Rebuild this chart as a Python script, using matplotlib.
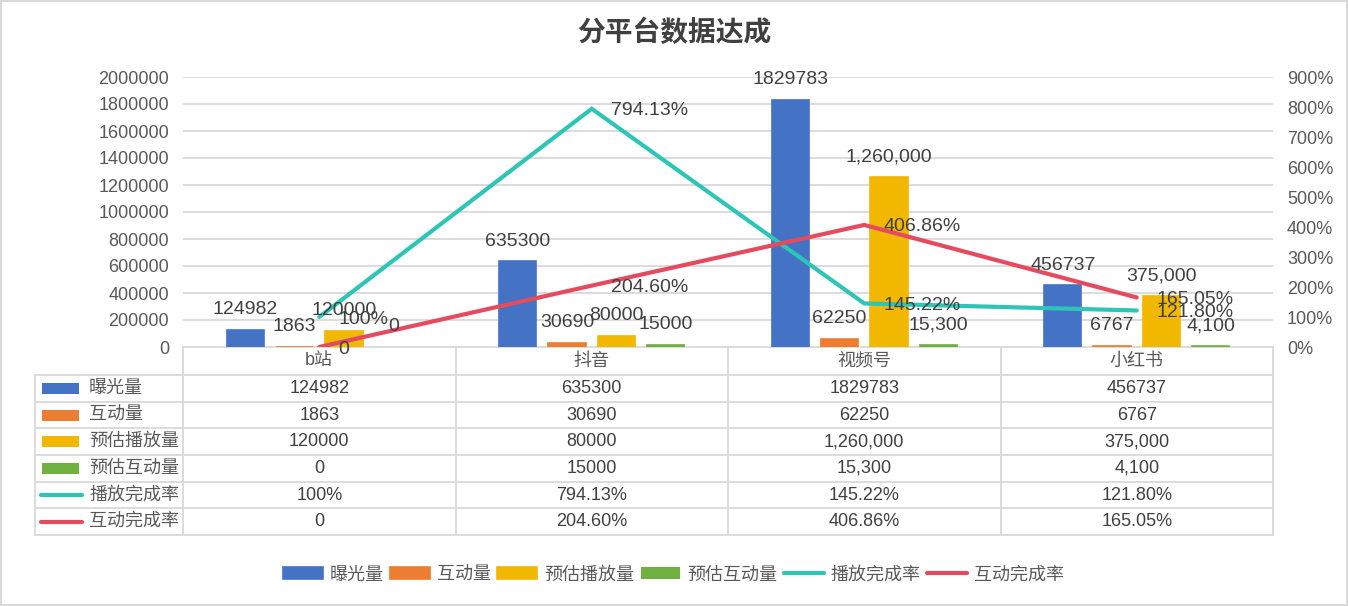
import matplotlib
matplotlib.use("Agg")
import matplotlib.pyplot as plt
from matplotlib.patches import Rectangle
from matplotlib.lines import Line2D
import numpy as np

plt.rcParams['font.family'] = ['Liberation Sans', 'Noto Sans CJK SC']

# ---------------- data ----------------
title = "分平台数据达成"
categories = ["b站", "抖音", "视频号", "小红书"]
series_names = ["曝光量", "互动量", "预估播放量", "预估互动量", "播放完成率", "互动完成率"]
exposure = [124982, 635300, 1829783, 456737]
interaction = [1863, 30690, 62250, 6767]
est_play = [120000, 80000, 1260000, 375000]
est_interact = [0, 15000, 15300, 4100]
play_rate = [1.00, 7.9413, 1.4522, 1.2180]
interact_rate = [0.0, 2.0460, 4.0686, 1.6505]

# display formats as in the source sheet
exposure_commas = [False, False, False, False]
interaction_commas = [False, False, False, False]
est_play_commas = [False, False, True, True]
est_interact_commas = [False, False, True, True]
play_rate_decimals = [0, 2, 2, 2]
interact_rate_decimals = [None, 2, 2, 2]   # None -> plain "0"

left_ticks = [0, 200000, 400000, 600000, 800000, 1000000, 1200000, 1400000,
              1600000, 1800000, 2000000]
right_ticks = [0, 1, 2, 3, 4, 5, 6, 7, 8, 9]

# ---------------- style ----------------
c_blue, c_orange, c_yellow, c_green = '#4472C4', '#ED7D31', '#F2B800', '#70B040'
c_teal, c_red = '#2EC4B6', '#E54B5F'
grid_c = '#d9d9d9'
txt_dark = '#404040'
txt_mid = '#595959'


def fmt_int(v, comma):
    return f"{v:,.0f}" if comma else f"{v:.0f}"


def fmt_pct(v, dec):
    if dec is None:
        return f"{v:.0f}"
    return f"{v * 100:.{dec}f}%"


W, H = 1348, 606
fig = plt.figure(figsize=(W / 100, H / 100), dpi=100)

# plot area in pixel layout
PL, PR, PT, PB = 183, 1273, 77, 347
ax = fig.add_axes([PL / W, 1 - PB / H, (PR - PL) / W, (PB - PT) / H])
x = np.arange(len(categories))
ax.set_xlim(-0.5, len(categories) - 0.5)
ax.set_ylim(left_ticks[0], left_ticks[-1])
ax.set_yticks(left_ticks)
ax.set_yticklabels([str(t) for t in left_ticks])
ax.tick_params(axis='y', length=0, pad=10, labelsize=13, labelcolor=txt_mid)
ax.set_xticks([])
ax.grid(axis='y', color=grid_c, lw=1.3)
ax.set_axisbelow(True)
for s in ['top', 'left', 'right', 'bottom']:
    ax.spines[s].set_visible(False)

bar_w, step = 0.137, 0.181
bar_series = [
    (exposure, exposure_commas, c_blue),
    (interaction, interaction_commas, c_orange),
    (est_play, est_play_commas, c_yellow),
    (est_interact, est_interact_commas, c_green),
]
bar_handles = []
for i, (vals, commas, col) in enumerate(bar_series):
    off = (i - 1.5) * step
    b = ax.bar(x + off, vals, bar_w, color=col, edgecolor=col,
               linewidth=[1.2 if v else 0 for v in vals], zorder=3)
    bar_handles.append(b)

ax2 = ax.twinx()
ax2.set_ylim(right_ticks[0], right_ticks[-1])
ax2.set_yticks(right_ticks)
ax2.set_yticklabels([f"{int(t * 100)}%" for t in right_ticks])
ax2.tick_params(axis='y', length=0, pad=10, labelsize=13, labelcolor=txt_mid)
for s in ['top', 'left', 'right', 'bottom']:
    ax2.spines[s].set_visible(False)

l1, = ax2.plot(x, play_rate, color=c_teal, lw=3, solid_capstyle='round',
               solid_joinstyle='miter', zorder=3)
l2, = ax2.plot(x, interact_rate, color=c_red, lw=3, solid_capstyle='round',
               solid_joinstyle='miter', zorder=3)

# bar data labels
for i, (vals, commas, col) in enumerate(bar_series):
    off = (i - 1.5) * step
    for xi, v, cm in zip(x, vals, commas):
        ax2.annotate(fmt_int(v, cm), xy=(xi + off, v), xycoords=ax.transData,
                     xytext=(0, 16), textcoords='offset points', ha='center',
                     va='center_baseline', fontsize=14, color=txt_dark, zorder=5)

# line data labels
for vals, decs in [(play_rate, play_rate_decimals), (interact_rate, interact_rate_decimals)]:
    for xi, v, d in zip(x, vals, decs):
        ax2.annotate(fmt_pct(v, d), xy=(xi, v), xytext=(14, 0),
                     textcoords='offset points', ha='left', va='center_baseline',
                     fontsize=14, color=txt_dark, zorder=5)

# ---------------- title ----------------
fig.text(674 / W, 1 - 33 / H, title, ha='center', va='center', fontsize=20,
         fontweight='bold', color=txt_dark)

# ---------------- data table ----------------
tax = fig.add_axes([0, 0, 1, 1], zorder=-1)
tax.set_xlim(0, W)
tax.set_ylim(H, 0)
tax.axis('off')

TL = 35
head_top, head_bot = PB, 375
row_h = (535 - head_bot) / 6.0
col_edges = np.linspace(PL, PR, len(categories) + 1)
row_edges = [head_bot + k * row_h for k in range(7)]
lw_t = 1.3

# horizontal lines
tax.plot([PL, PR], [head_top, head_top], color=grid_c, lw=lw_t)
for yv in row_edges:
    tax.plot([TL, PR], [yv, yv], color=grid_c, lw=lw_t)
# vertical lines
tax.plot([TL, TL], [head_bot, row_edges[-1]], color=grid_c, lw=lw_t)
for xv in col_edges:
    tax.plot([xv, xv], [head_top, row_edges[-1]], color=grid_c, lw=lw_t)

# header
for k, cat in enumerate(categories):
    tax.text((col_edges[k] + col_edges[k + 1]) / 2, (head_top + head_bot) / 2, cat,
             ha='center', va='center', fontsize=13, color=txt_mid)

row_values = [
    [fmt_int(v, c) for v, c in zip(exposure, exposure_commas)],
    [fmt_int(v, c) for v, c in zip(interaction, interaction_commas)],
    [fmt_int(v, c) for v, c in zip(est_play, est_play_commas)],
    [fmt_int(v, c) for v, c in zip(est_interact, est_interact_commas)],
    [fmt_pct(v, d) for v, d in zip(play_rate, play_rate_decimals)],
    [fmt_pct(v, d) for v, d in zip(interact_rate, interact_rate_decimals)],
]
row_colors = [c_blue, c_orange, c_yellow, c_green, c_teal, c_red]
for r in range(6):
    yc = (row_edges[r] + row_edges[r + 1]) / 2
    if r < 4:
        tax.add_patch(Rectangle((42, yc - 5.5), 37, 11, color=row_colors[r], lw=0))
    else:
        tax.add_line(Line2D([41, 82], [yc, yc], color=row_colors[r], lw=3,
                            solid_capstyle='round'))
    tax.text(89, yc, series_names[r], ha='left', va='center', fontsize=13, color=txt_mid)
    for k in range(len(categories)):
        tax.text((col_edges[k] + col_edges[k + 1]) / 2, yc, row_values[r][k],
                 ha='center', va='center', fontsize=13, color=txt_dark)

# outer border
tax.add_patch(Rectangle((1, 1), W - 2, H - 2, fill=False, ec=grid_c, lw=1.5))

# ---------------- legend ----------------
fig.legend(bar_handles + [l1, l2], series_names, loc='center',
           bbox_to_anchor=(673.5 / W, 1 - 575 / H), ncol=6, frameon=False,
           fontsize=13, handlelength=2.2, handleheight=0.6, handletextpad=0.4,
           columnspacing=0.35, labelcolor=txt_mid)

fig.savefig('out.png', dpi=100)
